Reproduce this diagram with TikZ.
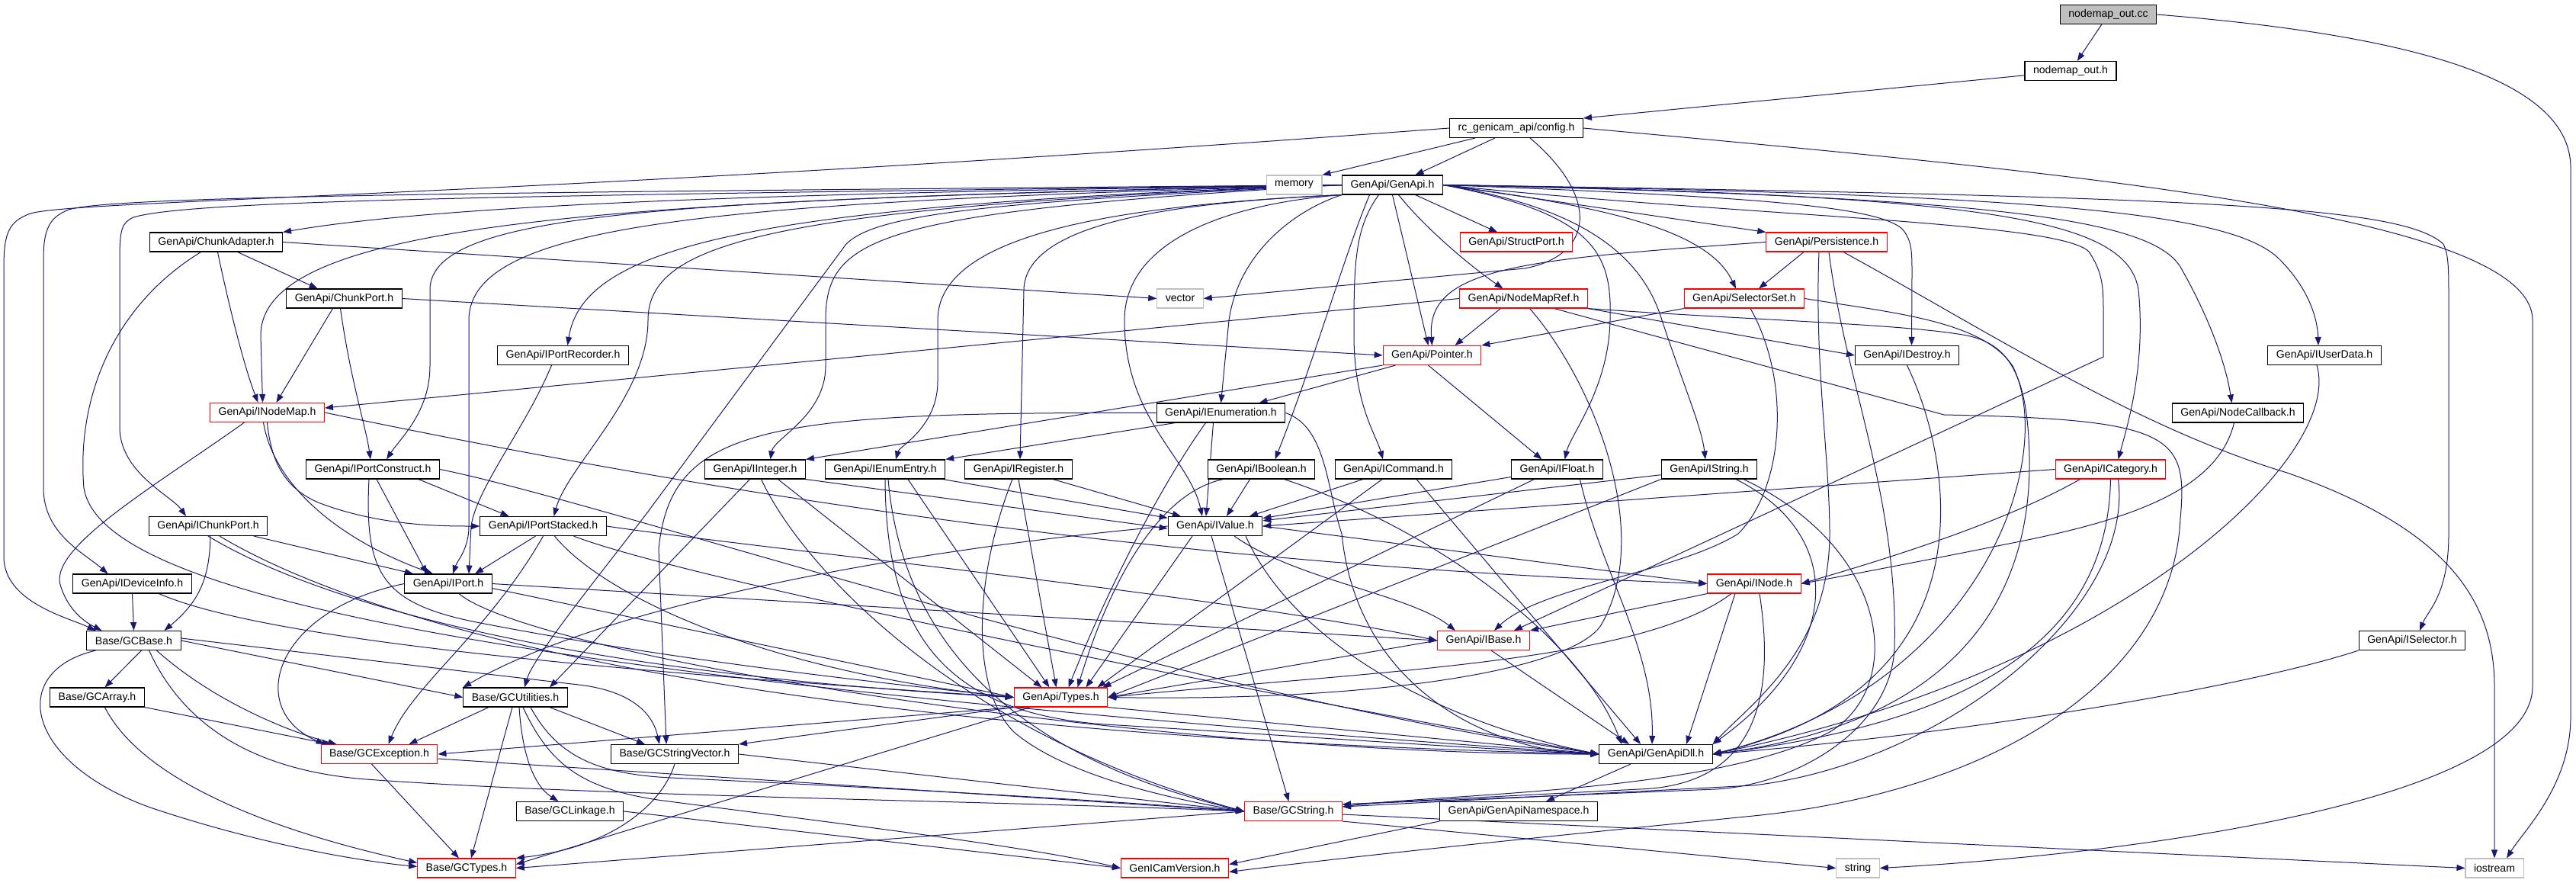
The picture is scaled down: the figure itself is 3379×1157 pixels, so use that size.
\documentclass[tikz,border=0pt]{standalone}
\usepackage{fontspec}
\setmainfont{Liberation Sans}
\usetikzlibrary{arrows.meta}
\definecolor{eblue}{HTML}{191970}
\definecolor{ngray}{HTML}{BFBFBF}
\pgfdeclarelayer{bg}
\pgfdeclarelayer{canvas}
\pgfsetlayers{canvas,bg,main}
\begin{document}
\begin{tikzpicture}[x=1pt,y=-1pt,
  nd/.style={draw=black, line width=1.1pt, rectangle, minimum height=25pt, inner xsep=11pt, inner ysep=0pt, fill=white, text=black, font=\fontsize{14.1}{16}\selectfont},
  rd/.style={nd, draw=red},
  gy/.style={nd, draw=ngray},
  rootnd/.style={nd, fill=ngray},
  ed/.style={draw=eblue, line width=1pt, -{Triangle[length=11pt,width=8pt]}},
]
\begin{pgfonlayer}{canvas}
\fill[white] (0,0) rectangle (3379,1157);
\end{pgfonlayer}
\useasboundingbox (0,0) rectangle (3379,1157);

\node[rootnd] (cc) at (2765.5,19) {nodemap\_out.cc};
\node[nd] (oh) at (2716,93) {nodemap\_out.h};
\node[nd] (cfg) at (1989,168) {rc\_genicam\_api/config.h};
\node[gy] (mem) at (1697.5,242.5) {memory};
\node[nd] (gapi) at (1826.5,242.5) {GenApi/GenApi.h};
\node[nd] (chad) at (283.5,317.5) {GenApi/ChunkAdapter.h};
\node[rd] (sport) at (1989,317.5) {GenApi/StructPort.h};
\node[rd] (pers) at (2396,317.5) {GenApi/Persistence.h};
\node[nd] (cport) at (451.5,391.5) {GenApi/ChunkPort.h};
\node[gy] (vec) at (1548,391.5) {vector};
\node[rd] (nmref) at (1998.5,391.5) {GenApi/NodeMapRef.h};
\node[rd] (selset) at (2288,391.5) {GenApi/SelectorSet.h};
\node[nd] (precd) at (738.5,466) {GenApi/IPortRecorder.h};
\node[rd] (ptr) at (1878.5,466) {GenApi/Pointer.h};
\node[nd] (idest) at (2501.5,466) {GenApi/IDestroy.h};
\node[nd] (iudata) at (3049,466) {GenApi/IUserData.h};
\node[rd] (inmap) at (350.5,541) {GenApi/INodeMap.h};
\node[nd] (ienum) at (1601.5,541.5) {GenApi/IEnumeration.h};
\node[nd] (ncb) at (2935.5,541.5) {GenApi/NodeCallback.h};
\node[nd] (pcons) at (489,615.5) {GenApi/IPortConstruct.h};
\node[nd] (iint) at (990.5,615.5) {GenApi/IInteger.h};
\node[nd] (ieentry) at (1161,615.5) {GenApi/IEnumEntry.h};
\node[nd] (ireg) at (1336,615.5) {GenApi/IRegister.h};
\node[nd] (ibool) at (1654.5,615.5) {GenApi/IBoolean.h};
\node[nd] (icmd) at (1828,615.5) {GenApi/ICommand.h};
\node[nd] (ifloat) at (2042.5,615.5) {GenApi/IFloat.h};
\node[nd] (istr) at (2242,615.5) {GenApi/IString.h};
\node[rd] (icat) at (2768.5,615.5) {GenApi/ICategory.h};
\node[nd] (icport) at (273,690) {GenApi/IChunkPort.h};
\node[nd] (pstack) at (712.5,690) {GenApi/IPortStacked.h};
\node[nd] (ival) at (1594,690) {GenApi/IValue.h};
\node[nd] (idev) at (173.5,765.5) {GenApi/IDeviceInfo.h};
\node[nd] (iport) at (588,765.5) {GenApi/IPort.h};
\node[rd] (inode) at (2301,765.5) {GenApi/INode.h};
\node[nd] (gcbase) at (175.5,840) {Base/GCBase.h};
\node[rd] (ibase) at (1946,840) {GenApi/IBase.h};
\node[nd] (isel) at (3164,840) {GenApi/ISelector.h};
\node[nd] (gcarr) at (127.5,914.5) {Base/GCArray.h};
\node[nd] (gcutil) at (676,914.5) {Base/GCUtilities.h};
\node[rd] (types) at (1391.5,914.5) {GenApi/Types.h};
\node[rd] (gcexc) at (497.5,989) {Base/GCException.h};
\node[nd] (gcsv) at (885,989) {Base/GCStringVector.h};
\node[nd] (dll) at (2172,989) {GenApi/GenApiDll.h};
\node[nd] (gclink) at (747.5,1064) {Base/GCLinkage.h};
\node[rd] (gcstr) at (1696.5,1064) {Base/GCString.h};
\node[nd] (gans) at (1992,1064) {GenApi/GenApiNamespace.h};
\node[gy] (str) at (2437,1138.5) {string};
\node[rd] (gctypes) at (612,1138.5) {Base/GCTypes.h};
\node[rd] (gcver) at (1541,1138.5) {GenICamVersion.h};
\node[gy] (iostr) at (3272,1138.5) {iostream};

\begin{pgfonlayer}{bg}
% top part
\draw[ed] (cc) -- (oh);
\draw[ed] (cc.east) .. controls (3150,45) and (3372,100) .. (3372,220) -- (3372,940) .. controls (3372,1030) and (3310,1090) .. ([xshift=16pt]iostr.north);
\draw[ed] (oh) -- (cfg.north east);
\draw[ed] (cfg) -- (mem.north east);
\draw[ed] (cfg) -- ([xshift=30pt]gapi.north);
\draw[ed] ([xshift=18pt]cfg.south) .. controls (2100,260) and (2090,335) .. (2000,352) -- (vec.east);
\draw[ed] (cfg.west) .. controls (700,258) and (100,262) .. (40,280) .. controls (12,290) and (5,305) .. (5,350) -- (5,730) .. controls (5,790) and (90,810) .. ([xshift=-50pt]gcbase.north);
\draw[ed] (cfg.east) .. controls (2700,225) and (3322,280) .. (3322,420) -- (3322,900) .. controls (3322,1050) and (2800,1120) .. (str.east);

% GenApi.h
\draw[ed] (gapi.west) .. controls (700,252) and (150,256) .. (90,275) .. controls (65,285) and (57,300) .. (57,340) -- (57,640) .. controls (57,700) and (110,725) .. ([xshift=-32pt]idev.north);
\draw[ed] (gapi.west) .. controls (700,256) and (250,262) .. (175,285) .. controls (160,292) and (157,300) .. (157,340) -- (157,560) .. controls (157,620) and (225,650) .. ([xshift=-29pt]icport.north);
\draw[ed] (gapi.west) .. controls (1100,252) and (600,265) .. (chad.north east);
\draw[ed] (gapi.west) .. controls (800,262) and (342,290) .. (342,440) -- ([xshift=-6pt]inmap.north);
\draw[ed] (gapi.west) .. controls (900,262) and (564,275) .. (564,380) -- (564,480) .. controls (564,540) and (525,575) .. ([xshift=18pt]pcons.north);
\draw[ed] (gapi.west) .. controls (950,265) and (615,290) .. (615,420) -- (615,690) .. controls (615,720) and (600,735) .. ([xshift=6pt]iport.north);
\draw[ed] (gapi.west) .. controls (1000,268) and (765,320) .. ([xshift=6pt]precd.north);
\draw[ed] (gapi.west) .. controls (1000,272) and (850,320) .. (850,420) .. controls (850,520) and (745,610) .. ([xshift=14pt]pstack.north);
\draw[ed] (gapi.west) .. controls (1300,265) and (1150,280) .. (1110,320) -- (850,671) .. controls (790,750) and (700,860) .. ([xshift=12pt]gcutil.north);
\draw[ed] (gapi.west) .. controls (1150,278) and (1083,310) .. (1083,420) -- (1083,480) .. controls (1083,545) and (1015,575) .. ([xshift=20pt]iint.north);
\draw[ed] (gapi.south west) .. controls (1450,270) and (1230,310) .. (1230,420) -- (1230,500) .. controls (1230,560) and (1180,585) .. ([xshift=14pt]ieentry.north);
\draw[ed] (gapi.south west) .. controls (1550,265) and (1345,290) .. (1343,380) -- ([xshift=2pt]ireg.north);
\draw[ed] (gapi.south west) .. controls (1700,275) and (1625,330) .. (1612,420) -- (ienum.north);
\draw[ed] (gapi.south west) .. controls (1600,268) and (1475,320) .. (1475,420) .. controls (1475,550) and (1560,600) .. ([xshift=-17pt]ival.north);
\draw[ed] ([xshift=-30pt]gapi.south) .. controls (1765,330) and (1725,470) .. ([xshift=18pt]ibool.north);
\draw[ed] ([xshift=-18pt]gapi.south) .. controls (1776,300) and (1776,350) .. (1776,440) .. controls (1776,530) and (1805,570) .. ([xshift=-14pt]icmd.north);
\draw[ed] (gapi.south) -- ([xshift=-5pt]ptr.north);
\draw[ed] ([xshift=8pt]gapi.south) .. controls (1870,300) and (1930,350) .. ([xshift=-27pt]nmref.north);
\draw[ed] ([xshift=30pt]gapi.south) -- ([xshift=-25pt]sport.north);
\draw[ed] (gapi.east) .. controls (2090,280) and (2115,330) .. (2112,420) .. controls (2110,510) and (2060,570) .. ([xshift=10pt]ifloat.north);
\draw[ed] (gapi.east) .. controls (2050,268) and (2150,320) .. (2180,420) .. controls (2210,510) and (2232,560) .. ([xshift=-5pt]istr.north);
\draw[ed] (gapi.east) -- (pers.north west);
\draw[ed] (gapi.east) .. controls (2100,270) and (2240,300) .. ([xshift=-11pt]selset.north);
\draw[ed] (gapi.east) .. controls (2300,258) and (2460,270) .. (2495,300) .. controls (2508,315) and (2508,330) .. (2508,360) -- ([xshift=6pt]idest.north);
\draw[ed] (gapi.east) .. controls (2700,255) and (2930,280) .. (2990,340) .. controls (3030,380) and (3040,420) .. ([xshift=-8pt]iudata.north);
\draw[ed] (gapi.east) .. controls (2600,258) and (2820,285) .. (2860,350) .. controls (2900,420) and (2920,480) .. ([xshift=-8pt]ncb.north);
\draw[ed] (gapi.east) .. controls (2600,256) and (2790,285) .. (2805,380) .. controls (2815,480) and (2790,560) .. ([xshift=10pt]icat.north);
\draw[ed] (gapi.east) .. controls (2900,258) and (3150,270) .. (3205,320) .. controls (3212,335) and (3212,350) .. (3212,400) -- (3212,700) .. controls (3212,780) and (3185,800) .. ([xshift=10pt]isel.north);
\draw[ed] (gapi.east) .. controls (2300,285) and (2700,290) .. (2740,330) .. controls (2760,360) and (2759,380) .. (2759,420) -- (2759,468) -- ([xshift=40pt]ibase.north);

% ChunkAdapter, ChunkPort, IPortRecorder
\draw[ed] (chad.east) -- (vec.west);
\draw[ed] ([xshift=2pt]chad.south) .. controls (300,400) and (320,480) .. ([xshift=-12pt]inmap.north);
\draw[ed] ([xshift=28pt]chad.south) -- ([xshift=-35pt]cport.north);
\draw[ed] ([xshift=-20pt]chad.south) .. controls (150,400) and (100,520) .. (110,640) .. controls (130,760) and (500,880) .. (dll.west);
\draw[ed] ([xshift=-15pt]cport.south) -- ([xshift=12pt]inmap.north);
\draw[ed] ([xshift=-5pt]cport.south) .. controls (460,500) and (480,560) .. ([xshift=-3pt]pcons.north);
\draw[ed] (cport.east) -- (ptr.west);
\draw[ed] ([xshift=-15pt]precd.south) .. controls (690,560) and (625,640) .. (618,690) -- ([xshift=27pt]iport.north);

% INodeMap
\draw[ed] ([xshift=-30pt]inmap.south) .. controls (200,640) and (60,720) .. (80,770) .. controls (90,800) and (110,815) .. ([xshift=-42pt]gcbase.north);
\draw[ed] ([xshift=-5pt]inmap.south) .. controls (360,640) and (450,710) .. ([xshift=-20pt]iport.north);
\draw[ed] (inmap.south) .. controls (355,600) and (370,640) .. (420,660) .. controls (500,690) and (580,690) .. (pstack.west);
\draw[ed] (inmap.east) .. controls (900,640) and (1500,740) .. (inode.west);

% IPortConstruct, IChunkPort, IPortStacked, IDeviceInfo, IPort
\draw[ed] ([xshift=5pt]pcons.south) -- ([xshift=-28pt]iport.north);
\draw[ed] ([xshift=60pt]pcons.south) -- ([xshift=-45pt]pstack.north);
\draw[ed] ([xshift=-5pt]pcons.south) .. controls (478,750) and (500,790) .. (620,815) .. controls (900,870) and (1200,900) .. (types.west);
\draw[ed] (pcons.east) .. controls (800,660) and (1500,900) .. (dll.west);
\draw[ed] ([xshift=3pt]icport.south) .. controls (275,760) and (260,790) .. ([xshift=40pt]gcbase.north);
\draw[ed] ([xshift=60pt]icport.south) -- ([xshift=-46pt]iport.north);
\draw[ed] (icport.south) .. controls (400,780) and (700,880) .. (types.west);
\draw[ed] ([xshift=15pt]icport.south) .. controls (450,800) and (900,960) .. (dll.west);
\draw[ed] ([xshift=-10pt]pstack.south) -- ([xshift=35pt]iport.north);
\draw[ed] (pstack.south) .. controls (640,830) and (540,900) .. ([xshift=12pt]gcexc.north);
\draw[ed] ([xshift=15pt]pstack.south) .. controls (790,780) and (1000,880) .. (types.west);
\draw[ed] ([xshift=40pt]pstack.south) .. controls (900,760) and (1600,900) .. (dll.west);
\draw[ed] (pstack.east) .. controls (1000,720) and (1600,780) .. (ibase.west);
\draw[ed] (idev.south) -- (gcbase.north);
\draw[ed] ([xshift=35pt]idev.south) .. controls (350,840) and (800,880) .. (types.west);
\draw[ed] (iport.west) .. controls (360,800) and (320,930) .. ([xshift=-72pt]gcexc.north);
\draw[ed] (iport.east) -- (ibase.west);
\draw[ed] ([yshift=-6pt]iport.east) -- (types.west);
\draw[ed] ([xshift=14pt]iport.south) .. controls (700,860) and (1500,990) .. (dll.west);

% Pointer, NodeMapRef, SelectorSet, Persistence
\draw[ed] (ptr.south west) -- (iint.north east);
\draw[ed] ([xshift=-48pt]ptr.south) -- ([xshift=50pt]ienum.north);
\draw[ed] ([xshift=-5pt]ptr.south) -- ([xshift=-20pt]ifloat.north);
\draw[ed] (nmref.west) -- ([yshift=6pt]inmap.east);
\draw[ed] ([xshift=-30pt]nmref.south) -- ([xshift=30pt]ptr.north);
\draw[ed] (nmref.south east) -- (idest.west);
\draw[ed] ([xshift=8pt]nmref.south) .. controls (2090,500) and (2170,700) .. (2100,820) .. controls (2060,880) and (1800,920) .. (types.east);
\draw[ed] (nmref.south east) .. controls (2300,420) and (2500,425) .. (2580,440) .. controls (2640,452) and (2660,500) .. (2662,600) .. controls (2665,800) and (2550,950) .. (dll.east);
\draw[ed] ([xshift=40pt]nmref.south) -- (2550,544) .. controls (2850,550) and (2870,570) .. (2860,680) .. controls (2850,900) and (2600,1040) .. (2300,1070) .. controls (2000,1100) and (1800,1120) .. ([yshift=-5pt]gcver.east);
\draw[ed] (selset.south west) -- (ptr.north east);
\draw[ed] ([xshift=8pt]selset.south) .. controls (2350,500) and (2340,640) .. (2280,700) .. controls (2200,750) and (2020,770) .. ([xshift=14pt]ibase.north);
\draw[ed] (selset.east) .. controls (2480,410) and (2600,420) .. (2640,480) .. controls (2700,600) and (2600,900) .. (dll.east);
\draw[ed] ([xshift=-30pt]pers.south) -- ([xshift=19pt]selset.north);
\draw[ed] (pers.west) .. controls (2000,340) and (1870,350) .. (ptr.north);
\draw[ed] ([xshift=22pt]pers.south) .. controls (2600,430) and (2800,560) .. (3000,620) .. controls (3200,690) and (3272,780) .. (3272,900) -- (iostr.north);
\draw[ed] ([xshift=3pt]pers.south) .. controls (2420,500) and (2490,650) .. (2485,850) .. controls (2480,960) and (2350,1030) .. (2250,1035) -- ([yshift=9pt]gcstr.east);
\draw[ed] ([xshift=-10pt]pers.south) .. controls (2380,480) and (2400,600) .. (2400,700) .. controls (2400,850) and (2300,920) .. (dll.north east);

% IEnumeration and the interface row
\draw[ed] ([xshift=-10pt]ienum.south) -- ([xshift=-12pt]ival.north);
\draw[ed] ([xshift=-20pt]ienum.south) .. controls (1520,640) and (1450,780) .. ([xshift=10pt]types.north);
\draw[ed] (ienum.west) .. controls (1000,540) and (880,560) .. (864,720) -- ([xshift=-11pt]gcsv.north);
\draw[ed] ([xshift=-60pt]ienum.south) -- (ieentry.north east);
\draw[ed] (ienum.east) .. controls (1740,560) and (1740,640) .. (1760,700) .. controls (1780,900) and (1950,985) .. (dll.west);
\draw[ed] (iint.south east) -- ([yshift=-3pt]ival.west);
\draw[ed] ([xshift=30pt]iint.south) -- ([xshift=-25pt]types.north);
\draw[ed] ([xshift=-7pt]iint.south) -- ([xshift=45pt]gcutil.north);
\draw[ed] ([xshift=8pt]iint.south) .. controls (1050,740) and (1250,960) .. (gcstr.west);
\draw[ed] (ieentry) -- (ival);
\draw[ed] ([xshift=30pt]ieentry.south) -- ([xshift=-15pt]types.north);
\draw[ed] (ieentry.south) .. controls (1162,820) and (1230,935) .. (1450,950) .. controls (1700,965) and (1900,980) .. (dll.west);
\draw[ed] ([xshift=4pt]ieentry.south) .. controls (1180,800) and (1280,980) .. (gcstr.west);
\draw[ed] (ireg) -- (ival);
\draw[ed] (ireg.south) -- ([xshift=-6pt]types.north);
\draw[ed] ([xshift=-8pt]ireg.south) .. controls (1280,750) and (1270,900) .. (1330,960) .. controls (1400,1020) and (1550,1050) .. (gcstr.west);
\draw[ed] ([xshift=-15pt]ibool.south) -- ([xshift=15pt]ival.north);
\draw[ed] ([xshift=-50pt]ibool.south) .. controls (1525,645) and (1460,750) .. ([xshift=22pt]types.north);
\draw[ed] ([xshift=30pt]ibool.south) .. controls (1900,700) and (2080,850) .. ([xshift=-45pt]dll.north);
\draw[ed] ([xshift=-40pt]icmd.south) -- ([xshift=45pt]ival.north);
\draw[ed] ([xshift=-15pt]icmd.south) -- ([xshift=48pt]types.north);
\draw[ed] ([xshift=30pt]icmd.south) -- ([xshift=-20pt]dll.north);
\draw[ed] (ifloat) -- (ival);
\draw[ed] ([xshift=-30pt]ifloat.south) -- ([xshift=55pt]types.north);
\draw[ed] ([xshift=30pt]ifloat.south) .. controls (2100,750) and (2170,850) .. ([xshift=-5pt]dll.north);
\draw[ed] (istr) -- (ival);
\draw[ed] (istr.south west) -- (types.east);
\draw[ed] ([xshift=35pt]istr.south) .. controls (2420,700) and (2420,850) .. (dll.north east);
\draw[ed] ([xshift=45pt]istr.south) .. controls (2480,720) and (2500,900) .. (2400,960) .. controls (2250,1040) and (1900,1040) .. ([yshift=6pt]gcstr.east);
\draw[ed] (icat.west) -- (ival.east);
\draw[ed] ([xshift=-40pt]icat.south) .. controls (2620,690) and (2450,740) .. (inode.east);
\draw[ed] (icat.south) .. controls (2765,800) and (2650,940) .. (dll.east);
\draw[ed] ([xshift=10pt]icat.south) .. controls (2800,800) and (2550,1000) .. (2300,1030) -- ([yshift=6pt]gcstr.east);
\draw[ed] ([xshift=-5pt]ncb.south) .. controls (2910,640) and (2800,680) .. (2650,710) .. controls (2500,740) and (2420,755) .. (inode.east);
\draw[ed] ([xshift=-10pt]iudata.south) .. controls (3075,600) and (2780,880) .. (dll.east);
\draw[ed] (idest.south) .. controls (2560,600) and (2620,900) .. (dll.east);
\draw[ed] (isel.south west) .. controls (2950,900) and (2600,960) .. (dll.east);

% IValue, INode, IBase
\draw[ed] ([xshift=-30pt]ival.south) -- ([xshift=33pt]types.north);
\draw[ed] ([xshift=25pt]ival.south) .. controls (1700,760) and (1850,780) .. ([xshift=-37pt]ibase.north);
\draw[ed] (ival.east) -- (inode.west);
\draw[ed] ([xshift=40pt]ival.south) .. controls (1700,850) and (1900,950) .. (dll.west);
\draw[ed] ([xshift=-5pt]ival.south) -- ([xshift=-6pt]gcstr.north);
\draw[ed] (ival.west) .. controls (1200,720) and (800,790) .. (gcutil.north west);
\draw[ed] (inode.south west) -- (ibase.north east);
\draw[ed] ([xshift=-30pt]inode.south) .. controls (2150,870) and (1800,880) .. (types.east);
\draw[ed] ([xshift=-25pt]inode.south) -- ([xshift=40pt]dll.north);
\draw[ed] ([xshift=7pt]inode.south) .. controls (2330,920) and (2300,1030) .. (2150,1035) -- ([yshift=9pt]gcstr.east);
\draw[ed] (ibase.west) -- (types.east);
\draw[ed] ([xshift=10pt]ibase.south) -- ([xshift=-35pt]dll.north);

% Types and Base
\draw[ed] (types.south west) -- (gcsv.north east);
\draw[ed] (types.south west) -- (gcexc.east);
\draw[ed] ([xshift=-40pt]types.south) -- ([yshift=5pt]gctypes.east);
\draw[ed] (types.south east) -- (dll.west);
\draw[ed] (gcsv.south) .. controls (870,1050) and (810,1110) .. (gctypes.north east);
\draw[ed] (gcsv.east) -- (gcstr.west);
\draw[ed] (gcstr.west) -- (gctypes.east);
\draw[ed] (gcstr.south east) -- (str.west);
\draw[ed] ([yshift=-4pt]gcstr.east) -- (iostr.west);
\draw[ed] ([xshift=-10pt]gcexc.south) -- ([xshift=-10pt]gctypes.north);
\draw[ed] ([yshift=-6pt]gcexc.east) -- (gcstr.west);
\draw[ed] (gcarr.south east) -- ([xshift=-64pt]gcexc.north);
\draw[ed] ([xshift=10pt]gcarr.south) .. controls (200,1050) and (450,1110) .. ([yshift=7pt]gctypes.west);
\draw[ed] ([xshift=10pt]gcbase.south) -- ([xshift=10pt]gcarr.north);
\draw[ed] ([xshift=30pt]gcbase.south) .. controls (280,920) and (380,960) .. ([xshift=-56pt]gcexc.north);
\draw[ed] (gcbase.east) -- (gcutil.west);
\draw[ed] ([yshift=3pt]gcbase.east) -- (759,898) .. controls (820,905) and (855,930) .. ([xshift=-20pt]gcsv.north);
\draw[ed] ([xshift=-50pt]gcbase.south) .. controls (10,880) and (30,1000) .. (200,1060) .. controls (350,1110) and (480,1130) .. ([yshift=2pt]gctypes.west);
\draw[ed] ([xshift=20pt]gcbase.south) .. controls (240,950) and (330,1010) .. (480,1022) .. controls (800,1045) and (1300,1050) .. (gcstr.west);
\draw[ed] ([xshift=-35pt]gcutil.south) -- ([xshift=39pt]gcexc.north);
\draw[ed] ([xshift=-4pt]gcutil.south) -- ([xshift=6pt]gctypes.north);
\draw[ed] ([xshift=5pt]gcutil.south) .. controls (685,990) and (700,1030) .. ([xshift=-15pt]gclink.north);
\draw[ed] ([xshift=45pt]gcutil.south) -- ([xshift=-39pt]gcsv.north);
\draw[ed] ([xshift=20pt]gcutil.south) .. controls (730,990) and (780,1015) .. (880,1020) .. controls (1200,1035) and (1450,1050) .. (gcstr.west);
\draw[ed] ([xshift=10pt]gcutil.south) .. controls (720,1000) and (760,1035) .. (870,1050) .. controls (1100,1080) and (1350,1110) .. (gcver.west);
\draw[ed] (gclink.east) -- (gcver.west);
\draw[ed] ([xshift=-33pt]dll.south) -- ([xshift=36pt]gans.north);
\draw[ed] (gans.south west) -- ([yshift=5pt]gcver.east);
\end{pgfonlayer}
\end{tikzpicture}
\end{document}
